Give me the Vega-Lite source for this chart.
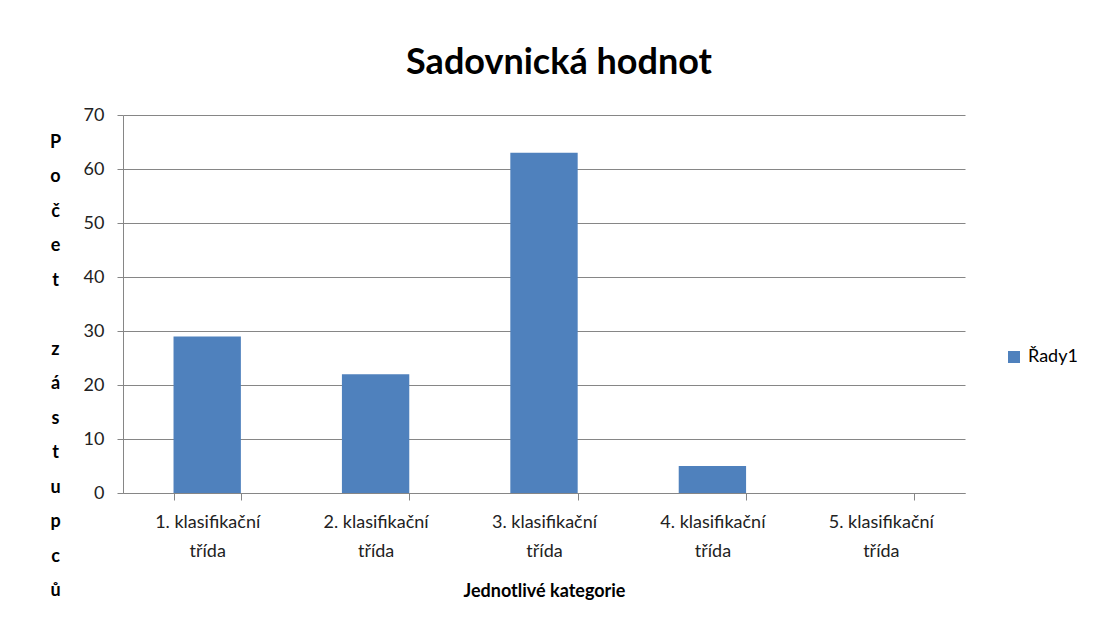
{
  "$schema": "https://vega.github.io/schema/vega-lite/v6.json",
  "width": 842,
  "height": 378,
  "autosize": {"type": "none"},
  "padding": {"left": 123, "top": 115, "right": 132, "bottom": 134},
  "background": "white",
  "title": {
    "text": "Sadovnická hodnot",
    "font": "Lato",
    "fontSize": 36,
    "fontWeight": "bold",
    "color": "#000000",
    "anchor": "middle",
    "dx": 15,
    "offset": 24
  },
  "data": {
    "values": [
      {"kategorie": "1. klasifikační třída", "pocet": 29, "serie": "Řady1"},
      {"kategorie": "2. klasifikační třída", "pocet": 22, "serie": "Řady1"},
      {"kategorie": "3. klasifikační třída", "pocet": 63, "serie": "Řady1"},
      {"kategorie": "4. klasifikační třída", "pocet": 5, "serie": "Řady1"},
      {"kategorie": "5. klasifikační třída", "pocet": 0, "serie": "Řady1"}
    ]
  },
  "mark": {"type": "bar"},
  "encoding": {
    "x": {
      "field": "kategorie",
      "type": "nominal",
      "sort": null,
      "scale": {"paddingInner": 0.6, "paddingOuter": 0.3},
      "axis": {
        "title": "Jednotlivé kategorie",
        "titleFont": "Lato",
        "titleFontSize": 18,
        "titleFontWeight": "bold",
        "titleColor": "#000000",
        "titleBaseline": "middle",
        "titleY": 98,
        "labelAngle": 0,
        "labelFont": "Lato",
        "labelFontSize": 18,
        "labelColor": "#222222",
        "labelExpr": "length(datum.label) > 0 ? [substring(datum.label, 0, 15), 'třída'] : ''",
        "labelLineHeight": 29,
        "labelPadding": 13,
        "labelBaseline": "top",
        "tickBand": "extent",
        "tickSize": 7,
        "tickColor": "#868686",
        "domainColor": "#868686",
        "grid": false
      }
    },
    "y": {
      "field": "pocet",
      "type": "quantitative",
      "scale": {"domain": [0, 70], "nice": false},
      "axis": {
        "values": [0, 10, 20, 30, 40, 50, 60, 70],
        "title": ["P", "o", "č", "e", "t", "\u200b", "z", "á", "s", "t", "u", "p", "c", "ů"],
        "titleAngle": 0,
        "titleFont": "Lato",
        "titleFontSize": 18,
        "titleFontWeight": "bold",
        "titleColor": "#000000",
        "titleLineHeight": 34.5,
        "titleAlign": "center",
        "titleBaseline": "middle",
        "titleX": -68,
        "titleY": 27,
        "labelFont": "Lato",
        "labelFontSize": 18,
        "labelColor": "#222222",
        "labelPadding": 13,
        "tickSize": 6,
        "tickColor": "#868686",
        "domainColor": "#868686",
        "grid": true,
        "gridColor": "#868686",
        "gridWidth": 1
      }
    },
    "color": {
      "field": "serie",
      "type": "nominal",
      "scale": {"range": ["#4F81BD"]},
      "legend": {
        "title": null,
        "orient": "none",
        "legendX": 882,
        "legendY": 233,
        "symbolType": "square",
        "symbolSize": 144,
        "symbolStrokeWidth": 0,
        "labelFont": "Lato",
        "labelFontSize": 18,
        "labelColor": "#000000",
        "labelOffset": 5
      }
    }
  },
  "config": {
    "view": {"stroke": null}
  }
}
